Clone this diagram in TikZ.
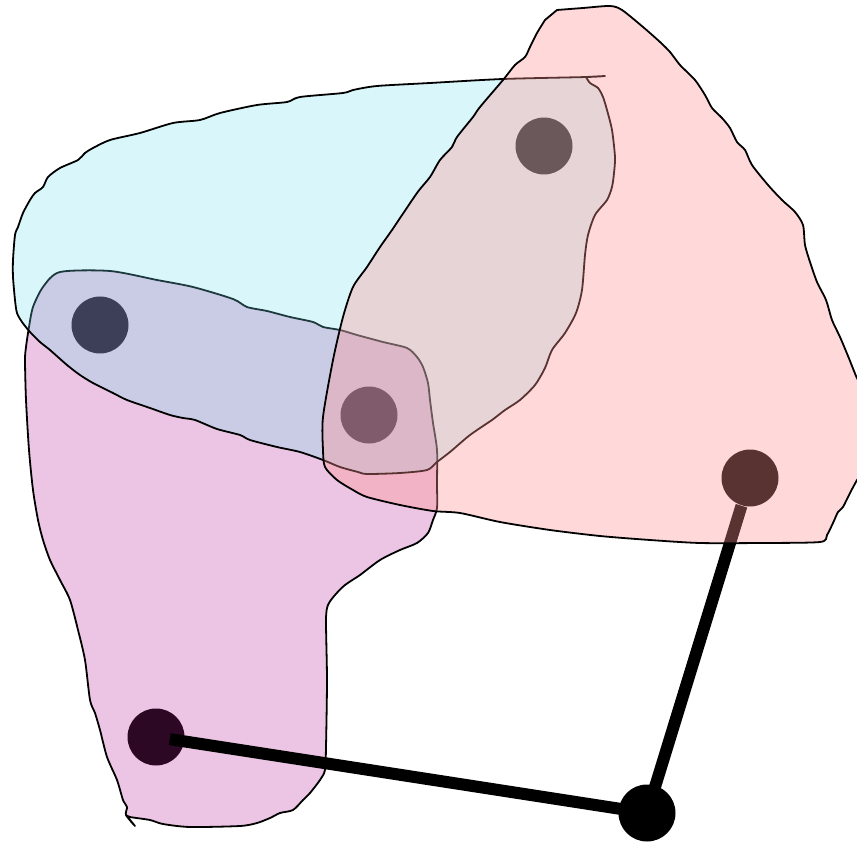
\documentclass[tikz,border=0pt]{standalone}
\usepackage{tikz}

\definecolor{ciano}{RGB}{109,224,240}
\definecolor{rosa}{RGB}{255,146,146}
\definecolor{roxo}{RGB}{177,31,146}

\begin{document}
\begin{tikzpicture}[
  x=1pt, y=-1pt,
  vertice/.style={circle, fill=black, minimum size=57pt, inner sep=0pt},
  aresta/.style={line width=12pt, line cap=butt},
  hiper/.style={draw=black, line width=1.8pt, line join=round},
  contorno/.style={smooth, tension=0.45}
]
\useasboundingbox (0,0) rectangle (857,842);
% vertices
\node[vertice] (a) at (100,325) {};
\node[vertice] (b) at (544,146) {};
\node[vertice] (c) at (369,415) {};
\node[vertice] (d) at (750,478) {};
\node[vertice] (e) at (156,737) {};
\node[vertice] (f) at (647,813) {};
% aresta sob a hiperaresta rosa
\draw[aresta, shorten <=29pt] (d.center) -- (f.center);
% hiperaresta roxa {a,c,e}
\draw[hiper, fill=roxo, fill opacity=0.26] plot[contorno] coordinates {
  (126,815) (130,817) (150,820) (163,824) (190,827) (240,826) (257,823)
  (270,818) (280,813) (293,810) (303,800) (310,793) (320,780) (325,770)
  (326,747) (327,680) (326,620) (328,605) (335,595) (345,585) (360,575)
  (380,560) (400,550) (417,543) (428,533) (433,520) (437,508) (437,483)
  (437,450) (433,423) (430,400) (428,383) (423,367) (417,357) (407,348)
  (383,342) (357,335) (340,330) (323,327) (313,322) (290,317) (267,311)
  (247,307) (233,299) (193,287) (157,280) (110,271) (60,272) (43,287)
  (33,307) (29,327) (26,347) (25,360) (26,400) (29,450) (33,490) (38,520)
  (43,540) (50,560) (60,580) (70,600) (78,630) (85,660) (90,700) (95,713)
  (100,730) (107,757) (117,780) (123,800) (127,807) (126,815) (135,826)} -- cycle;
% aresta sobre a hiperaresta roxa
\draw[aresta, shorten <=14pt] (e.center) -- (f.center);
% hiperaresta ciano {a,b,c}
\draw[hiper, fill=ciano, fill opacity=0.26] plot[contorno] coordinates {
  (605,76) (587,77) (503,79) (430,83) (377,86) (353,90) (343,93) (300,97)
  (287,102) (257,105) (220,113) (200,120) (173,123) (140,133) (110,140)
  (93,148) (85,153) (78,160) (60,168) (48,177) (43,187) (35,193) (30,200)
  (23,213) (18,227) (15,235) (13,260) (13,277) (15,300) (17,313) (22,322)
  (30,332) (40,342) (50,350) (67,365) (80,375) (93,383) (113,393) (127,400)
  (150,408) (170,415) (183,418) (195,420) (217,429) (240,435) (250,440)
  (277,447) (300,452) (323,460) (340,467) (358,472) (367,474) (400,473)
  (427,470) (437,462) (450,452) (470,435) (492,420) (505,410) (520,400)
  (535,385) (545,368) (552,350) (565,333) (576,313) (582,290) (585,255)
  (588,235) (595,215) (607,200) (612,187) (614,173) (615,157) (612,130)
  (607,110) (603,97) (598,88) (590,83) (586,77)} -- cycle;
% hiperaresta rosa {b,c,d}
\draw[hiper, fill=rosa, fill opacity=0.35] plot[contorno] coordinates {
  (557,10) (583,8) (610,6) (622,10) (643,27) (660,42) (670,52) (680,65)
  (695,80) (705,95) (712,108) (722,118) (730,128) (737,142) (745,150)
  (752,165) (768,185) (782,200) (795,212) (803,225) (805,245) (810,262)
  (817,282) (826,300) (832,320) (840,337) (848,356) (856,376) (866,400)
  (866,465) (857,480) (850,493) (843,507) (838,512) (833,523) (827,535)
  (820,542) (760,543) (700,543) (650,540) (600,536) (550,530) (500,522)
  (460,513) (433,511) (400,505) (367,497) (353,490) (337,480) (325,467)
  (323,450) (323,417) (333,360) (343,317) (353,287) (367,267) (380,247)
  (392,230) (417,193) (430,177) (440,160) (452,147) (457,137) (473,117)
  (480,107) (503,80) (515,65) (525,57) (530,47) (537,33) (545,20)} -- cycle;
\end{tikzpicture}
\end{document}
